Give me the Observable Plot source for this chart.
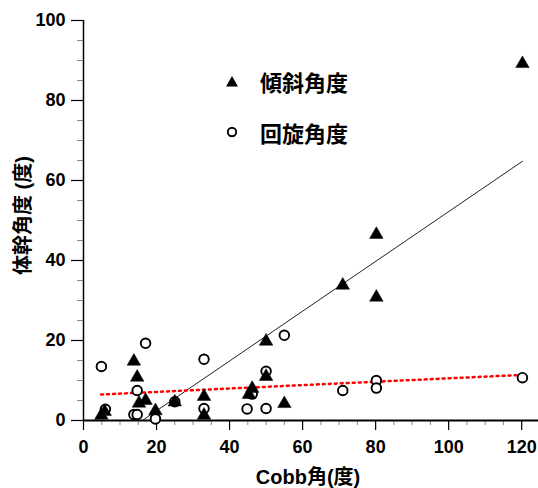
<!DOCTYPE html>
<html>
<head>
<meta charset="utf-8">
<script src="https://cdn.jsdelivr.net/npm/d3@7"></script>
<script src="https://cdn.jsdelivr.net/npm/@observablehq/plot@0.6"></script>
<style>
  html, body { margin: 0; padding: 0; background: #fff; overflow: hidden; }
  #wrap { position: relative; width: 538px; height: 488px; }
  #legend { position: absolute; left: 0; top: 0; font-family: "Noto Sans CJK JP", "Noto Sans", sans-serif; font-size: 22px; font-weight: bold; color: #000; }
  .item { position: absolute; display: flex; align-items: center; white-space: nowrap; }
  .item svg { margin-right: 21px; }
</style>
</head>
<body>
<div id="wrap"><div id="legend"></div></div>
<script>
// Data
const tiltX = [4.9, 5.8, 13.8, 14.7, 15.2, 17, 19.7, 25, 33, 33, 45.3, 46.2, 50, 50, 55, 71, 80.2, 80.2, 120.2];
const tiltY = [1.3, 2.2, 14.8, 10.8, 4.3, 5.0, 2.4, 4.6, 6.0, 1.3, 6.5, 8.0, 11.0, 19.8, 4.2, 33.8, 46.5, 30.8, 89.2];
const rotX  = [4.9, 6, 13.8, 14.7, 14.7, 17, 19.7, 25, 33, 33, 44.8, 46.2, 50, 50, 55, 71, 80.2, 80.2, 120.2];
const rotY  = [13.5, 2.8, 1.5, 1.5, 7.5, 19.3, 0.4, 4.7, 15.3, 3.0, 2.9, 6.6, 12.3, 3.0, 21.3, 7.5, 10.0, 8.1, 10.7];
const tiltFitX = [16.1, 120.2];
const tiltFitY = [0, 64.8];
const rotFitX = [4.8, 120.2];
const rotFitY = [6.5, 11.4];
const xMajor = [0, 20, 40, 60, 80, 100, 120];
const yMajor = [0, 20, 40, 60, 80, 100];
const xMinor = d3.range(5, 126, 5).filter(v => v % 20 !== 0);
const yMinor = d3.range(5, 100, 5).filter(v => v % 20 !== 0);
const seriesNames = ["傾斜角度", "回旋角度"];
const xTitle = "Cobb角(度)";
const yTitle = "体幹角度 (度)";

const tilt = tiltX.map((x, i) => ({x, y: tiltY[i]}));
const rot = rotX.map((x, i) => ({x, y: rotY[i]}));
const tiltFit = tiltFitX.map((x, i) => ({x, y: tiltFitY[i]}));
const rotFit = rotFitX.map((x, i) => ({x, y: rotFitY[i]}));

const font = '"Liberation Sans", Arial, "Noto Sans CJK JP", sans-serif';
const cjk = '"Liberation Sans", "Noto Sans CJK JP", sans-serif';

const chart = Plot.plot({
  width: 538,
  height: 488,
  marginLeft: 83,
  marginRight: 0,
  marginTop: 20,
  marginBottom: 68,
  style: {fontFamily: font, fontSize: "18px", fontWeight: "bold", color: "#000", background: "#fff"},
  x: {domain: [0, 124.6]},
  y: {domain: [0, 100]},
  marks: [
    Plot.axisX({ticks: xMinor, tickSize: 5, text: null, label: null, stroke: "#888", strokeWidth: 1}),
    Plot.axisY({ticks: yMinor, tickSize: 6, text: null, label: null, stroke: "#888", strokeWidth: 1}),
    Plot.axisX({ticks: xMajor, tickSize: 10, tickPadding: 10, label: null, stroke: "#000", strokeWidth: 1.2, tickFormat: d => String(d)}),
    Plot.axisY({ticks: yMajor, tickSize: 12, tickPadding: 6, label: null, stroke: "#000", strokeWidth: 1.2, tickFormat: d => String(d)}),
    Plot.ruleY([0], {stroke: "#000", strokeWidth: 2}),
    Plot.ruleX([0], {stroke: "#000", strokeWidth: 1.5}),
    Plot.line(tiltFit, {x: "x", y: "y", stroke: "#222", strokeWidth: 1}),
    Plot.line(rotFit, {x: "x", y: "y", stroke: "#ff0000", strokeWidth: 2.5, strokeDasharray: "2 4"}),
    Plot.dot(rot, {x: "x", y: "y", symbol: "circle", r: 4.8, fill: "#fff", stroke: "#000", strokeWidth: 1.9}),
    Plot.dot(tilt, {x: "x", y: "y", symbol: "triangle", r: 5, fill: "#000", stroke: "#000", strokeWidth: 0.5}),
    Plot.text([xTitle], {frameAnchor: "bottom", lineAnchor: "middle", textAnchor: "middle", dy: 57, dx: -3, fontSize: 20, fontWeight: "bold", fontFamily: cjk, fill: "#000"}),
    Plot.text([yTitle], {frameAnchor: "left", lineAnchor: "middle", textAnchor: "middle", dx: -60, dy: -5, rotate: -90, fontSize: 20, fontWeight: "bold", fontFamily: cjk, fill: "#000"})
  ]
});
document.getElementById("wrap").prepend(chart);

// Legend
const legend = document.getElementById("legend");
const symbols = [
  '<svg width="14" height="14" viewBox="0 0 14 14"><path d="M7 2 L13 12.5 L1 12.5 Z" fill="#000"/></svg>',
  '<svg width="14" height="14" viewBox="0 0 14 14"><circle cx="7" cy="7" r="4.2" fill="#fff" stroke="#000" stroke-width="1.9"/></svg>'
];
const tops = [81, 132];
seriesNames.forEach((name, i) => {
  const div = document.createElement("div");
  div.className = "item";
  div.style.left = "225px";
  div.style.top = (tops[i] - 16) + "px";
  div.style.height = "32px";
  div.innerHTML = symbols[i] + '<span>' + name + '</span>';
  legend.appendChild(div);
});
</script>
</body>
</html>
